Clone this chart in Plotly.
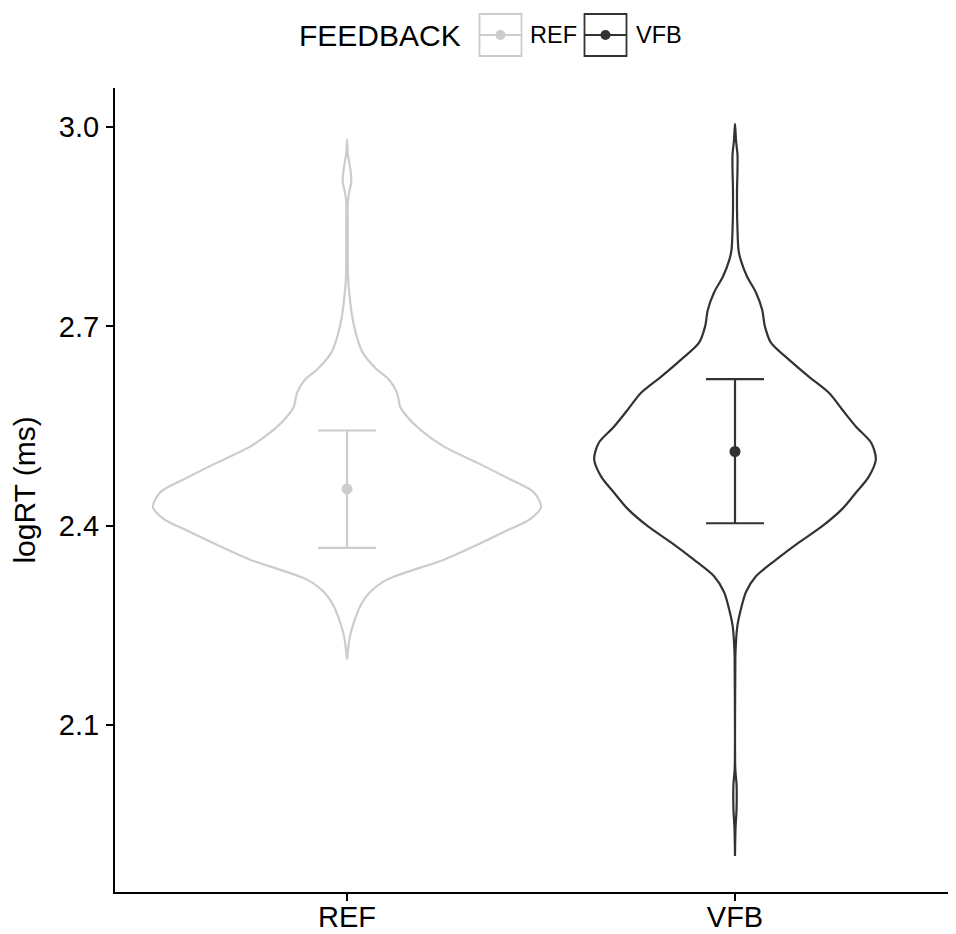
import plotly.graph_objects as go

# ---------------- data ----------------
categories = ["REF", "VFB"]
colors = {"REF": "#CCCCCC", "VFB": "#333333"}

# violin outline: logRT levels and half-widths (in category units)
ref_y = [2.981, 2.960, 2.946, 2.930, 2.917, 2.903, 2.887, 2.850, 2.808, 2.770, 2.740, 2.716, 2.689,
         2.662, 2.635, 2.620, 2.600, 2.579, 2.564, 2.545, 2.519, 2.495, 2.470, 2.450, 2.428,
         2.410, 2.395, 2.369, 2.349, 2.334, 2.319, 2.300, 2.279, 2.255, 2.234, 2.199]
ref_w = [0.0, 0.002, 0.006, 0.010, 0.011, 0.006, 0.002, 0.002, 0.002, 0.003, 0.0077, 0.013, 0.023,
         0.039, 0.077, 0.108, 0.129, 0.137, 0.155, 0.188, 0.250, 0.335, 0.420, 0.482, 0.500,
         0.472, 0.420, 0.327, 0.250, 0.173, 0.103, 0.059, 0.034, 0.018, 0.0077, 0.0]

vfb_y = [3.0045, 2.980, 2.958, 2.935, 2.905, 2.875, 2.845, 2.815, 2.800, 2.775, 2.751, 2.725,
         2.700, 2.675, 2.650, 2.624, 2.600, 2.575, 2.549, 2.525, 2.500, 2.474, 2.450, 2.425,
         2.399, 2.375, 2.349, 2.324, 2.300, 2.274, 2.249, 2.210, 2.184, 2.034, 2.011, 1.974,
         1.944, 1.903]
vfb_w = [0.0, 0.0026, 0.0064, 0.0064, 0.0052, 0.0052, 0.0064, 0.009, 0.0147, 0.031, 0.054, 0.070,
         0.077, 0.093, 0.139, 0.191, 0.242, 0.276, 0.312, 0.351, 0.363, 0.345, 0.312, 0.276,
         0.224, 0.165, 0.106, 0.054, 0.028, 0.015, 0.006, 0.0013, 0.0008, 0.0008, 0.004, 0.004,
         0.0013, 0.0]

means = [2.4554, 2.5117]
upper = [2.5433, 2.6206]
lower = [2.3667, 2.4038]

y_ticks = [2.1, 2.4, 2.7, 3.0]

# ---------------- figure ----------------
OFF = 8  # default page body margin
W, H = 956 - OFF, 934 - OFF
ML, MR, MT, MB = 115 - OFF, 0, 88 - OFF, 42
FONT = "Arial, Liberation Sans, sans-serif"

fig = go.Figure()

profiles = {"REF": (ref_y, ref_w), "VFB": (vfb_y, vfb_w)}
for i, cat in enumerate(categories):
    center = i + 1
    ys, ws = profiles[cat]
    xs = [center - w for w in ws] + [center + w for w in reversed(ws)]
    yy = list(ys) + list(reversed(ys))
    fig.add_trace(go.Scatter(
        x=xs, y=yy, mode="lines",
        line=dict(color=colors[cat], width=2.2, shape="spline", smoothing=0.8),
        showlegend=False, hoverinfo="skip"))

for i, cat in enumerate(categories):
    fig.add_trace(go.Scatter(
        x=[i + 1], y=[means[i]], mode="markers",
        marker=dict(color=colors[cat], size=11),
        error_y=dict(type="data", symmetric=False,
                     array=[upper[i] - means[i]], arrayminus=[means[i] - lower[i]],
                     color=colors[cat], thickness=2.2, width=29),
        showlegend=False, name=cat))

# ---------------- manual legend (ggplot style) ----------------
pw = W - ML - MR
ph = H - MT - MB


def px(xp):
    return (xp - OFF - ML) / pw


def py(yp):
    return (H - MB - (yp - OFF)) / ph


fig.add_annotation(x=px(297), y=py(36), xref="paper", yref="paper", text="FEEDBACK",
                   showarrow=False, xanchor="left", yanchor="middle",
                   font=dict(family=FONT, size=30, color="black"))

legend_items = [("REF", 479.5, 528), ("VFB", 584.5, 634)]
for cat, x0, tx in legend_items:
    c = colors[cat]
    fig.add_shape(type="rect", xref="paper", yref="paper",
                  x0=px(x0), x1=px(x0 + 42), y0=py(56), y1=py(14),
                  line=dict(color=c, width=1.8), fillcolor="white", layer="above")
    fig.add_shape(type="line", xref="paper", yref="paper",
                  x0=px(x0), x1=px(x0 + 42), y0=py(35), y1=py(35),
                  line=dict(color=c, width=2.2), layer="above")
    fig.add_shape(type="circle", xref="paper", yref="paper",
                  x0=px(x0 + 21 - 5), x1=px(x0 + 21 + 5), y0=py(40), y1=py(30),
                  line=dict(color=c, width=0), fillcolor=c, layer="above")
    fig.add_annotation(x=px(tx), y=py(35), xref="paper", yref="paper", text=cat,
                       showarrow=False, xanchor="left", yanchor="middle",
                       font=dict(family=FONT, size=23.5, color="black"))

fig.update_layout(
    width=W, height=H,
    margin=dict(l=ML, r=MR, t=MT, b=MB, autoexpand=False),
    plot_bgcolor="white", paper_bgcolor="white",
    font=dict(family=FONT, color="black"),
    showlegend=False,
    xaxis=dict(range=[0.402, 2.5696], tickvals=[1, 2], ticktext=categories,
               showgrid=False, zeroline=False, showline=True, linecolor="black", linewidth=2,
               ticks="outside", ticklen=7, tickwidth=2, tickcolor="black",
               tickfont=dict(family=FONT, size=29, color="black"), ticklabelstandoff=-9,
               fixedrange=True),
    yaxis=dict(range=[1.849, 3.0586], tickvals=y_ticks, tickformat=".1f",
               showgrid=False, zeroline=False, showline=True, linecolor="black", linewidth=2,
               ticks="outside", ticklen=7, tickwidth=2, tickcolor="black",
               tickfont=dict(family=FONT, size=29, color="black"), ticklabelstandoff=1,
               title=dict(text="logRT (ms)", font=dict(family=FONT, size=30, color="black"),
                          standoff=17),
               fixedrange=True),
)

fig.write_html("out.html")
